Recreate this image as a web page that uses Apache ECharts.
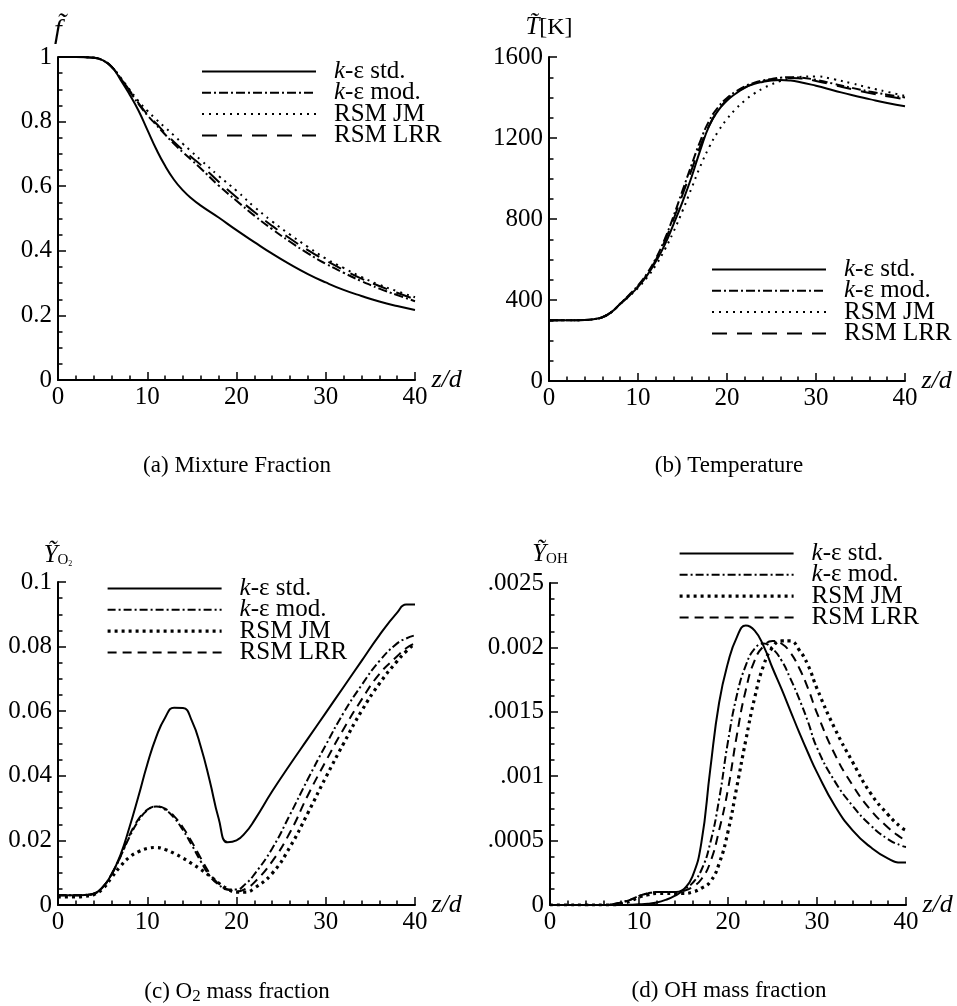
<!DOCTYPE html>
<html><head><meta charset="utf-8">
<script src="https://cdn.jsdelivr.net/npm/echarts@6/dist/echarts.min.js"></script>
<style>html,body{margin:0;padding:0;background:#fff}#c{width:957px;height:1006px}</style>
</head><body><div id="c"></div>
<script>
// ---------- data ----------
const seriesLabels = ['k-ε std.', 'k-ε mod.', 'RSM JM', 'RSM LRR'];
const xTickLabels = ['0', '10', '20', '30', '40'];
const yTickLabelsA = ['0', '0.2', '0.4', '0.6', '0.8', '1'];
const yTickLabelsB = ['0', '400', '800', '1200', '1600'];
const yTickLabelsC = ['0', '0.02', '0.04', '0.06', '0.08', '0.1'];
const yTickLabelsD = ['0', '.0005', '.001', '.0015', '0.002', '.0025'];
const captions = ['(a) Mixture Fraction', '(b) Temperature', '(c) O{sub|2} mass fraction', '(d) OH mass fraction'];

// (a) mixture fraction
const zA = [0,2,4,5,6,7,8,9,10,11,12,13,14,15,16,18,20,22,24,26,28,30,32,34,36,38,40];
const fStd = [1,1,0.998,0.99,0.97,0.93,0.885,0.835,0.775,0.715,0.663,0.62,0.587,0.561,0.54,0.503,0.464,0.427,0.391,0.358,0.328,0.302,0.279,0.26,0.243,0.229,0.217];
const fMod = [1,1,0.998,0.99,0.97,0.935,0.895,0.855,0.82,0.79,0.76,0.731,0.705,0.68,0.655,0.602,0.555,0.509,0.467,0.428,0.392,0.36,0.332,0.306,0.283,0.263,0.244];
const fJm  = [1,1,0.998,0.99,0.97,0.937,0.9,0.864,0.834,0.807,0.782,0.757,0.731,0.706,0.681,0.632,0.586,0.536,0.491,0.45,0.412,0.376,0.347,0.319,0.295,0.275,0.256];
const fLrr = [1,1,0.998,0.99,0.97,0.935,0.897,0.858,0.823,0.794,0.765,0.737,0.712,0.689,0.666,0.614,0.566,0.52,0.477,0.438,0.402,0.37,0.341,0.314,0.291,0.27,0.25];

// (b) temperature
const zB = [0,2,4,5,6,7,8,9,10,11,12,13,14,15,16,17,18,19,20,21,22,23,24,25,26,27,28,30,32,34,36,38,40];
const tStd = [300,300,301,305,315,340,380,420,465,520,590,672,775,885,1005,1140,1260,1335,1385,1420,1448,1466,1477,1484,1486,1484,1478,1458,1435,1412,1392,1373,1357];
const tMod = [300,300,301,305,315,340,382,425,472,530,605,700,815,940,1065,1185,1285,1352,1398,1430,1455,1472,1484,1492,1498,1500,1499,1487,1468,1448,1430,1414,1400];
const tJm  = [300,300,301,305,315,340,380,418,460,510,572,648,738,840,950,1060,1155,1232,1294,1344,1385,1418,1444,1465,1481,1494,1501,1504,1490,1470,1448,1428,1408];
const tLrr = [300,300,301,305,315,340,381,423,468,525,598,690,800,920,1040,1160,1262,1336,1388,1424,1450,1468,1480,1489,1494,1496,1495,1482,1462,1441,1422,1406,1392];

// (c) O2 mass fraction
const zC = [0,2,3,4,5,6,7,8,9,10,11,12,13,14,15,16,17,18,19,20,21,22,24,26,28,30,32,34,36,38,39,40];
const o2Std = [0.003,0.003,0.0031,0.0035,0.0055,0.0095,0.0155,0.024,0.0335,0.0435,0.052,0.058,0.0611,0.061,0.057,0.049,0.0385,0.0268,0.0194,0.02,0.0224,0.0262,0.0352,0.0435,0.0515,0.0595,0.0675,0.0755,0.0835,0.0905,0.093,0.093];
const o2Mod = [0.003,0.003,0.0031,0.0035,0.0055,0.0095,0.015,0.021,0.026,0.0293,0.0305,0.0295,0.027,0.0232,0.0185,0.0135,0.009,0.0063,0.0048,0.0048,0.0065,0.0095,0.0175,0.028,0.039,0.0495,0.0595,0.068,0.0755,0.081,0.0825,0.0835];
const o2Jm  = [0.0025,0.0025,0.0027,0.0032,0.005,0.0085,0.012,0.0148,0.0165,0.0175,0.0178,0.0172,0.016,0.0145,0.0128,0.011,0.009,0.0068,0.005,0.004,0.004,0.0052,0.0098,0.018,0.0285,0.0395,0.05,0.06,0.0685,0.0755,0.0785,0.081];
const o2Lrr = [0.003,0.003,0.0031,0.0035,0.0055,0.0095,0.015,0.0215,0.0265,0.0295,0.0305,0.0298,0.0275,0.024,0.0195,0.0145,0.0098,0.0065,0.0048,0.0042,0.005,0.007,0.0135,0.0225,0.034,0.0445,0.0545,0.0635,0.0715,0.077,0.0795,0.081];

// (d) OH mass fraction
const zD = [0,2,4,6,7,8,9,10,11,12,13,14,15,16,17,18,19,20,21,22,23,24,25,26,27,28,29,30,32,34,36,38,39.5,40];
const ohStd = [0,0,0,0,0,0,0.000002,0.000005,0.00001,0.00002,0.00004,0.00007,0.00012,0.00022,0.00048,0.00105,0.00157,0.00188,0.00208,0.00217,0.00213,0.00201,0.00184,0.00168,0.00151,0.00134,0.00118,0.00103,0.00077,0.00058,0.00045,0.00036,0.00033,0.00033];
const ohMod = [0,0,0,0,0.000005,0.00002,0.00004,0.00007,0.00009,0.0001,0.0001,0.0001,0.00012,0.00017,0.00027,0.00048,0.00082,0.00127,0.00163,0.00186,0.00199,0.00203,0.00199,0.0019,0.00176,0.0016,0.00142,0.00122,0.00096,0.00077,0.00062,0.00051,0.00046,0.00045];
const ohJm  = [0,0,0,0,0,0.00001,0.00003,0.00006,0.00008,0.00009,0.00009,0.00009,0.00009,0.0001,0.00013,0.00018,0.00032,0.00057,0.00092,0.00128,0.00161,0.00186,0.002,0.00205,0.00205,0.00198,0.00186,0.00168,0.00137,0.00111,0.00087,0.0007,0.0006,0.00058];
const ohLrr = [0,0,0,0,0.000005,0.00002,0.00004,0.00007,0.00009,0.0001,0.0001,0.0001,0.00011,0.00014,0.0002,0.00033,0.00058,0.0009,0.00132,0.00167,0.0019,0.00201,0.00205,0.00203,0.00196,0.00184,0.00168,0.00149,0.00117,0.00093,0.00074,0.0006,0.00052,0.0005];

// ---------- chart ----------
const F = 'Liberation Serif';
const panels = [
  {id:'a', z:zA, vals:[fStd,fMod,fJm,fLrr], bold:false},
  {id:'b', z:zB, vals:[tStd,tMod,tJm,tLrr], bold:false},
  {id:'c', z:zC, vals:[o2Std,o2Mod,o2Jm,o2Lrr], bold:true},
  {id:'d', z:zD, vals:[ohStd,ohMod,ohJm,ohLrr], bold:true}
];
const stylesThin = [
  {color:'#000', width:2, type:'solid'},
  {color:'#000', width:2, type:[9,3,2,3]},
  {color:'#000', width:2, type:[2,5]},
  {color:'#000', width:2, type:[15,10]}
];
const stylesBold = [
  {color:'#000', width:2, type:'solid'},
  {color:'#000', width:2, type:[8,3,2,3]},
  {color:'#000', width:3.2, type:[3,4]},
  {color:'#000', width:2, type:[9,6]}
];
const grids = [
  {left:58, top:57, width:357, height:323},
  {left:549, top:57, width:356, height:324},
  {left:58, top:582, width:357, height:323},
  {left:550, top:583, width:356, height:322}
];
const yRanges = [
  {max:1, interval:0.2, labels:yTickLabelsA, name:'{i|f\u0303}', gap:7},
  {max:1600, interval:400, labels:yTickLabelsB, name:'{i|T\u0303}[K]', gap:17},
  {max:0.1, interval:0.02, labels:yTickLabelsC, name:'{i|Ỹ}{s|O}{ss|2}', gap:14},
  {max:0.0025, interval:0.0005, labels:yTickLabelsD, name:'{i|Ỹ}{s|OH}', gap:16}
];
const legendPos = [
  {left:201, top:59},
  {left:711, top:257},
  {left:106, top:576},
  {left:678, top:541}
];

const axisLine = {lineStyle:{color:'#000', width:2}};
const axisTick = {inside:true, length:8, lineStyle:{color:'#000', width:1.5}};
const xAxes = [], yAxes = [], series = [], legends = [];
panels.forEach((p, g) => {
  xAxes.push({
    type:'value', gridIndex:g, min:0, max:40, interval:10,
    name:'z/d', nameLocation:'end', nameGap:16,
    nameTextStyle:{fontFamily:F, fontStyle:'italic', fontSize:26, color:'#000'},
    axisLine, axisTick,
    minorTick:{show:true, splitNumber:5, length:4.5, lineStyle:{color:'#000', width:1.5}},
    axisLabel:{fontFamily:F, fontSize:25, color:'#000', margin:5,
      formatter: v => xTickLabels[Math.round(v/10)]},
    splitLine:{show:false}
  });
  const yr = yRanges[g];
  yAxes.push({
    type:'value', gridIndex:g, min:0, max:yr.max, interval:yr.interval,
    name:yr.name, nameLocation:'end', nameGap:yr.gap,
    nameTextStyle:{fontFamily:F, fontSize:24, color:'#000',
      rich:{i:{fontFamily:F, fontStyle:'italic', fontSize: g===0?28:25, color:'#000'},
            s:{fontFamily:F, fontSize:15, color:'#000', verticalAlign:'bottom', padding:[10,0,0,0]},
            ss:{fontFamily:F, fontSize:8, color:'#000', verticalAlign:'bottom', padding:[14,0,0,0]}}},
    axisLine, axisTick,
    minorTick:{show:true, splitNumber:4, length:4.5, lineStyle:{color:'#000', width:1.5}},
    axisLabel:{fontFamily:F, fontSize:25, color:'#000', margin:6,
      formatter: v => yr.labels[Math.round(v/yr.interval)]},
    splitLine:{show:false}
  });
  const st = p.bold ? stylesBold : stylesThin;
  const names = [];
  seriesLabels.forEach((lab, k) => {
    const nm = lab + '#' + p.id;
    names.push(nm);
    series.push({
      type:'line', name:nm, xAxisIndex:g, yAxisIndex:g,
      data:p.z.map((z, i) => [z, p.vals[k][i]]),
      symbol:'none', smooth:0.5,
      lineStyle:st[k], itemStyle:{color:'#000'},
      emphasis:{disabled:true}, z: 4-k
    });
  });
  legends.push({
    data:names, orient:'vertical', left:legendPos[g].left, top:legendPos[g].top,
    itemWidth:114, itemHeight:14, itemGap:-3.7, padding:0, selectedMode:false,
    lineStyle:{width:'inherit'},
    itemStyle:{opacity:0, color:'rgba(0,0,0,0)', borderWidth:0},
    formatter: n => { const b = n.split('#')[0]; return b.startsWith('k-') ? '{i|k}' + b.slice(1) : b; },
    textStyle:{fontFamily:F, fontSize:25, color:'#000', padding:[0,0,0,13],
      rich:{i:{fontFamily:F, fontStyle:'italic', fontSize:25, color:'#000'}}}
  });
});

const capPos = [{x:237, y:454}, {x:729, y:454}, {x:237, y:979}, {x:729, y:979}];
const titles = captions.map((t, i) => ({
  text:t, left:capPos[i].x, top:capPos[i].y, textAlign:'center', textVerticalAlign:'top', padding:0,
  textStyle:{fontFamily:F, fontSize:23, fontWeight:'normal', color:'#000',
    rich:{sub:{fontFamily:F, fontSize:17, color:'#000', verticalAlign:'bottom', padding:[9,0,0,0]}}}
}));

const chart = echarts.init(document.getElementById('c'), null, {renderer:'canvas'});
chart.setOption({
  backgroundColor:'#fff',
  animation:false,
  textStyle:{fontFamily:F, color:'#000'},
  title:titles,
  grid:grids,
  xAxis:xAxes,
  yAxis:yAxes,
  legend:legends,
  series:series
});
</script>
</body></html>
